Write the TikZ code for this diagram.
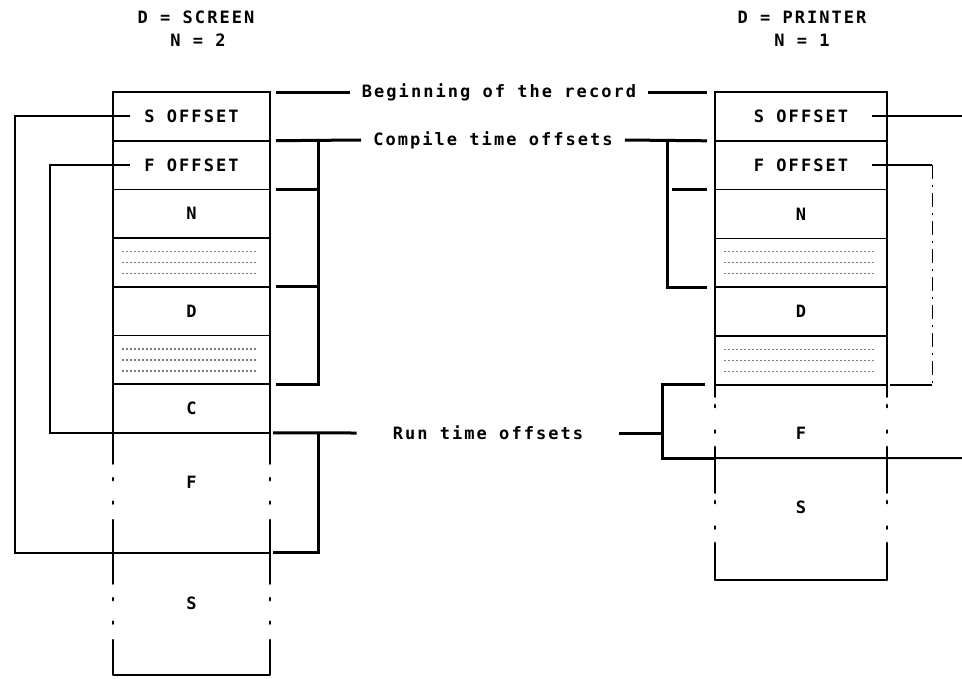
\documentclass[tikz,border=0pt]{standalone}
\usepackage{fontspec}
\usepackage{tikz}
\newfontfamily\dotfont{DejaVu Sans Mono}[LetterSpace=12]

\tikzset{
	cell/.style={draw, line width=1.6pt, outer sep=0pt, inner sep=0pt, minimum width=157pt, minimum height=48.7pt},
	pcell/.style={cell, minimum width=172pt, minimum height=48.8pt},
	blur/.style={path picture={\foreach \dy in {-11,0,11} \draw[black!50, line width=1.3pt, dash pattern=on 1.5pt off 2.5pt] ([xshift=9pt,yshift=\dy pt]path picture bounding box.west) -- ([xshift=-12pt,yshift=\dy pt]path picture bounding box.east);}},
	freecell/.style={outer sep=0pt, inner sep=0pt},
	note/.style={inner xsep=12pt, inner ysep=2pt},
	brace/.style={line width=3pt},
	ptr/.style={line width=2pt},
	sdash/.style={line width=2.2pt, line cap=round, dash pattern=on 64pt off 14pt on 2.5pt off 21pt on 2.5pt off 16pt, dash phase=33pt},
	pdash/.style={line width=2.2pt, line cap=round, dash pattern=on 46pt off 8pt on 2.5pt off 23pt on 2.5pt off 14pt, dash phase=34pt},
	fdash/.style={line width=1pt, dash pattern=on 14pt off 6pt on 2pt off 6pt}
}

\begin{document}
\begin{tikzpicture}[x=1pt, y=-1pt, font=\dotfont\bfseries\fontsize{17}{19}\selectfont]
	
	\useasboundingbox (0,0) rectangle (962,678);
	
	% headings
	\node (sHead) at (196,17) {D = SCREEN};
	\node (sNum)  at (198,40) {N = 2};
	\node (pHead) at (802,17) {D = PRINTER};
	\node (pNum)  at (802,40) {N = 1};
	
	% screen record
	\node[cell] (sSoff) at (191.5,116.35) {S OFFSET};
	\node[cell] (sFoff) at (191.5,165.05) {F OFFSET};
	\node[cell] (sN)    at (191.5,213.75) {N};
	\node[cell,blur] (sGa) at (191.5,262.45) {};
	\node[cell] (sD)    at (191.5,311.15) {D};
	\node[cell,blur] (sGb) at (191.5,359.85) {};
	\node[cell] (sC)    at (191.5,408.55) {C};
	\node[freecell, minimum width=157pt, minimum height=120pt, label={[yshift=11pt]center:F}] (sF) at (191.5,492.9) {};
	\node[freecell, minimum width=157pt, minimum height=122pt, label={[yshift=11pt]center:S}] (sS) at (191.5,613.9) {};
	
	% printer record
	\node[pcell] (pSoff) at (801,116.4) {S OFFSET};
	\node[pcell] (pFoff) at (801,165.2) {F OFFSET};
	\node[pcell] (pN)    at (801,214)   {N};
	\node[pcell,blur] (pGa) at (801,262.8) {};
	\node[pcell] (pD)    at (801,311.6) {D};
	\node[pcell,blur] (pGb) at (801,360.4) {};
	\node[freecell, minimum width=172pt, minimum height=73.2pt, label={[yshift=-12pt]center:F}] (pF) at (801,421.4) {};
	\node[freecell, minimum width=172pt, minimum height=122pt, label={[yshift=12pt]center:S}] (pS) at (801,519) {};
	
	% middle texts
	\node[note] (begin) at (499,92)  {Beginning of the record};
	\node[note] (ctime) at (493,140) {Compile time offsets};
	\node[note, inner xsep=36pt] (rtime) at (488,433) {Run time offsets};
	
	\coordinate (cL) at (318,140);
	\coordinate (cR) at (667,140);
	\coordinate (rR) at (662,433);
	\coordinate (fR) at (932,165.2);
	\coordinate (eS) at (962,116.4);
	\coordinate (eR) at (962,458);
	
	% open ends of the records
	\draw[sdash] (sF.north west) -- (sS.south west);
	\draw[sdash] (sF.north east) -- (sS.south east);
	\draw[line width=1.6pt] (sS.south west) -- (sS.south east);
	\draw[pdash] (pF.north west) -- (pS.south west);
	\draw[pdash] (pF.north east) -- (pS.south east);
	\draw[line width=1.6pt] (pS.south west) -- (pS.south east);
	
	% beginning of the record
	\draw[brace] ([xshift=6pt]sSoff.north east) -- (begin.west);
	\draw[brace] (begin.east) -- ([xshift=-8pt]pSoff.north west);
	
	% compile time offsets
	\draw[brace] ([xshift=6pt]sSoff.south east) -- (ctime.west);
	\draw[brace] ([xshift=6pt]sGb.south east) -| (cL);
	\draw[brace] ([xshift=6pt]sFoff.south east) -- (sFoff.south east -| cL);
	\draw[brace] ([xshift=6pt]sGa.south east) -- (sGa.south east -| cL);
	\draw[brace] (ctime.east) -- ([xshift=-8pt]pSoff.south west);
	\draw[brace] ([xshift=-8pt]pGa.south west) -| (cR);
	\draw[brace] ([xshift=-8pt]pFoff.south west) -- ++(-35,0);
	
	% run time offsets
	\draw[brace] ([xshift=3pt]sC.south east) -- (rtime.west);
	\draw[brace] (sC.south east -| cL) |- ([xshift=3pt]sF.south east);
	\draw[brace] (rtime.east) -- (rR);
	\draw[brace] ([xshift=-10pt]pGb.south west) -| (pF.south west -| rR) -- (pF.south west);
	
	% offset pointers
	\draw[ptr] ([xshift=17pt]sSoff.west) -- ++(-115,0) |- (sS.north east);
	\draw[ptr] ([xshift=17pt]sFoff.west) -- ++(-80,0) |- (sF.north east);
	\draw[ptr] ([xshift=-15pt]pSoff.east) -- (eS);
	\draw[ptr] ([xshift=-15pt]pFoff.east) -- (fR);
	\draw[fdash] (fR) -- (fR |- pGb.south);
	\draw[ptr] (fR |- pGb.south) -- ([xshift=3pt]pGb.south east);
	\draw[ptr] (pF.south west) -- (eR);
	
\end{tikzpicture}
\end{document}
